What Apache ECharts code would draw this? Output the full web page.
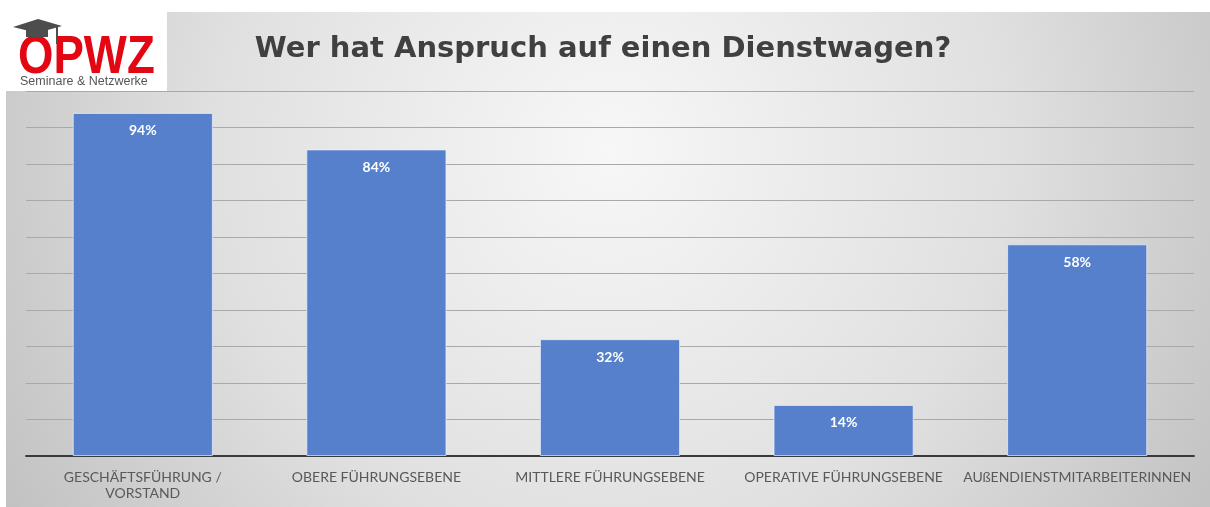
<!DOCTYPE html>
<html lang="de">
<head>
    <meta charset="UTF-8">
    <title>Dienstwagen</title>
    <style>
        html,body{margin:0;padding:0;background:#fff;}
        #main{width:1210px;height:507px;}
    </style>
</head>
<body>
<div id="main"></div>
<script src="https://cdn.jsdelivr.net/npm/echarts@6/dist/echarts.min.js"></script>
<script>
    const categories = ['GESCHÄFTSFÜHRUNG /\nVORSTAND', 'OBERE FÜHRUNGSEBENE', 'MITTLERE FÜHRUNGSEBENE', 'OPERATIVE FÜHRUNGSEBENE', 'AUßENDIENSTMITARBEITERINNEN']
    const values = [94, 84, 32, 14, 58]
    const title = 'Wer hat Anspruch auf einen Dienstwagen?'

    const myChart = echarts.init(document.getElementById('main'));

    const option = {
        animation: false,
        graphic: [
            // hintergrund
            {
                type: 'rect', z: -10, silent: true,
                shape: {x: 6, y: 12, width: 1204, height: 495},
                style: {
                    fill: {
                        type: 'radial', global: true, x: 610, y: 150, r: 720,
                        colorStops: [
                            {offset: 0, color: '#f7f7f7'},
                            {offset: 0.55, color: '#e0e0e0'},
                            {offset: 1, color: '#c0c0c0'}
                        ]
                    }
                }
            },
            // logo
            {type: 'rect', z: -5, shape: {x: 6, y: 12, width: 161, height: 79}, style: {fill: '#fff'}},
            {
                type: 'polygon', z: 5,
                shape: {points: [[13, 27], [38, 19], [62, 26], [37, 33]]},
                style: {fill: '#4d4d4d'}
            },
            {
                type: 'polygon', z: 5,
                shape: {points: [[26, 30], [48, 30], [48, 37], [26, 37]]},
                style: {fill: '#4d4d4d'}
            },
            {type: 'line', z: 5, shape: {x1: 57, y1: 27, x2: 57, y2: 44}, style: {stroke: '#4d4d4d', lineWidth: 2}},
            {
                type: 'text', z: 4, x: 18, y: 32, scaleX: 0.86,
                style: {text: 'OPWZ', fill: '#e30613', font: 'bold 53px "Liberation Sans", Arial, sans-serif'}
            },
            {
                type: 'text', z: 4, x: 20, y: 75,
                style: {text: 'Seminare & Netzwerke', fill: '#555', font: '12.5px "Liberation Sans", Arial, sans-serif'}
            },
            // titel
            {
                type: 'text', z: 4, x: 603, y: 49,
                style: {
                    text: title, fill: '#404040', align: 'center', verticalAlign: 'middle',
                    font: 'bold 29px "DejaVu Sans", sans-serif'
                }
            }
        ],
        grid: {
            left: 26,
            right: 16,
            top: 91,
            bottom: 51
        },
        xAxis: {
            type: 'category',
            data: categories,
            axisTick: {show: false},
            axisLine: {
                lineStyle: {color: '#3a3a3a', width: 2}
            },
            axisLabel: {
                interval: 0,
                margin: 13,
                color: '#595959',
                fontSize: 14,
                lineHeight: 16,
                fontFamily: 'Lato, "Liberation Sans", sans-serif'
            }
        },
        yAxis: {
            type: 'value',
            min: 0,
            max: 100,
            interval: 10,
            axisLabel: {show: false},
            axisLine: {show: false},
            axisTick: {show: false},
            splitLine: {
                lineStyle: {color: '#a9a9a9', width: 1.2}
            }
        },
        series: [
            {
                type: 'bar',
                data: values,
                barWidth: '60%',
                itemStyle: {
                    color: '#5680cb',
                    borderColor: 'rgba(235,242,255,0.7)',
                    borderWidth: 1
                },
                label: {
                    show: true,
                    position: 'insideTop',
                    distance: 11,
                    formatter: d => d.value + '%',
                    color: '#fff',
                    fontWeight: 'bold',
                    fontSize: 14,
                    fontFamily: 'Lato, "DejaVu Sans", sans-serif'
                }
            }
        ]
    };

    myChart.setOption(option);
</script>
</body>
</html>
